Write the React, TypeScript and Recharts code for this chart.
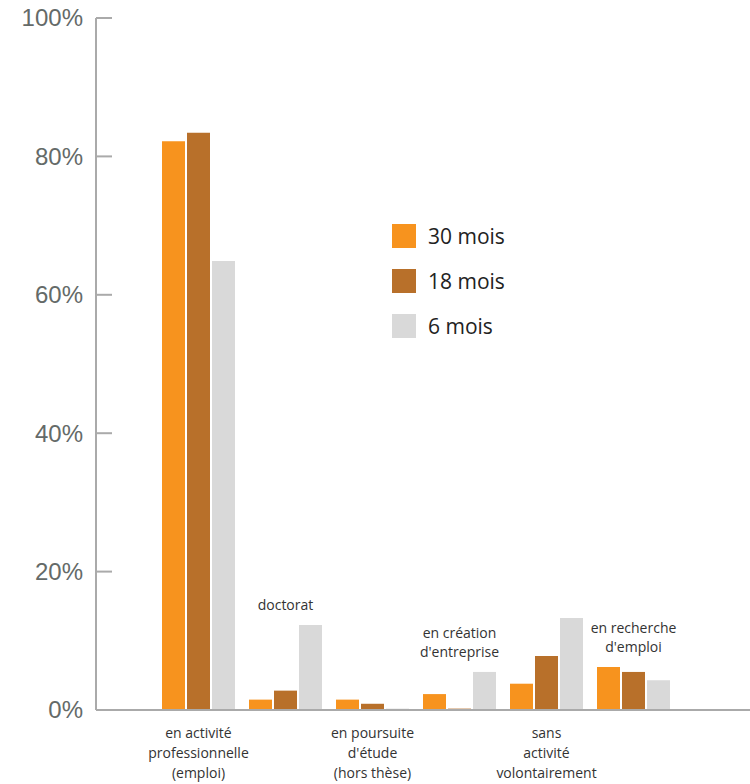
import React from "react";
import { ComposedChart, Bar, Line, XAxis, YAxis, LabelList } from "recharts";

const categories = [
  "en activité professionnelle (emploi)",
  "doctorat",
  "en poursuite d'étude (hors thèse)",
  "en création d'entreprise",
  "sans activité volontairement",
  "en recherche d'emploi",
];
const labelLines = [
  ["en activité", "professionnelle", "(emploi)"],
  ["doctorat"],
  ["en poursuite", "d'étude", "(hors thèse)"],
  ["en création", "d'entreprise"],
  ["sans", "activité", "volontairement"],
  ["en recherche", "d'emploi"],
];
const labelAbove = [false, true, false, true, false, true];

const mois30 = [82.2, 1.5, 1.5, 2.3, 3.8, 6.2];
const mois18 = [83.4, 2.8, 0.9, 0.2, 7.8, 5.5];
const mois6 = [64.9, 12.3, 0.2, 5.5, 13.3, 4.3];

const yTicks = [0, 20, 40, 60, 80, 100];

const series = [
  { key: "m30", name: "30 mois", color: "#f7931e" },
  { key: "m18", name: "18 mois", color: "#b8702a" },
  { key: "m6", name: "6 mois", color: "#d9d9d9" },
];

const data = categories.map((c, i) => ({
  name: c,
  m30: mois30[i],
  m18: mois18[i],
  m6: mois6[i],
  // labels drawn above a group sit over its tallest bar
  top: labelAbove[i] ? Math.max(mois30[i], mois18[i], mois6[i]) : null,
}));

const LABEL_FONT = "'Open Sans', sans-serif";

function YTick(props: any) {
  const { x, y, payload } = props;
  return (
    <g>
      <line x1={x} x2={x + 16} y1={y} y2={y} stroke="#aaaaaa" strokeWidth={2} />
      <text
        x={x - 13}
        y={y}
        dy="0.35em"
        textAnchor="end"
        fill="#646a68"
        fontSize={24}
        fontFamily="'Liberation Sans', Arial, sans-serif"
      >
        {`${payload.value}%`}
      </text>
    </g>
  );
}

function XTick(props: any) {
  const { x, y, index } = props;
  if (labelAbove[index]) return null;
  return (
    <text x={x} y={y} textAnchor="middle" fill="#333333" fontSize={14} fontFamily={LABEL_FONT}>
      {labelLines[index].map((l, k) => (
        <tspan key={k} x={x} y={y + 23 + k * 20} dy="0.35em">
          {l}
        </tspan>
      ))}
    </text>
  );
}

function TopLabel(props: any) {
  const { x, y, index, value } = props;
  if (value == null || !labelAbove[index]) return null;
  const lines = labelLines[index];
  const n = lines.length;
  return (
    <text x={x} y={y} textAnchor="middle" fill="#333333" fontSize={14} fontFamily={LABEL_FONT}>
      {lines.map((l, k) => (
        <tspan key={k} x={x} y={y - 20 - (n - 1 - k) * 19} dy="0.35em">
          {l}
        </tspan>
      ))}
    </text>
  );
}

function LegendBox() {
  return (
    <div style={{ position: "absolute", left: 392, top: 213, fontFamily: LABEL_FONT }}>
      {series.map((s) => (
        <div key={s.key} style={{ display: "flex", alignItems: "center", height: 45 }}>
          <div style={{ width: 24, height: 24, background: s.color, marginRight: 12 }} />
          <span style={{ fontSize: 21, color: "#222222" }}>{s.name}</span>
        </div>
      ))}
    </div>
  );
}

export default function App() {
  return (
    <div style={{ position: "absolute", left: 0, top: 0, width: 750, height: 784, background: "#fff" }}>
      <ComposedChart
        width={750}
        height={784}
        data={data}
        margin={{ top: 18, right: 0, bottom: 0, left: 0 }}
        barSize={23}
        barGap={2}
      >
        <YAxis
          width={96}
          domain={[0, 100]}
          ticks={yTicks}
          interval={0}
          axisLine={{ stroke: "#aaaaaa", strokeWidth: 2 }}
          tickLine={false}
          tickSize={0}
          tickMargin={0}
          tick={<YTick />}
        />
        <XAxis
          dataKey="name"
          height={74}
          interval={0}
          padding={{ left: 59, right: 73 }}
          axisLine={{ stroke: "#aaaaaa", strokeWidth: 2 }}
          tickLine={false}
          tickSize={0}
          tickMargin={0}
          tick={<XTick />}
        />
        {series.map((s) => (
          <Bar key={s.key} dataKey={s.key} name={s.name} fill={s.color} isAnimationActive={false} />
        ))}
        <Line
          dataKey="top"
          stroke="none"
          dot={false}
          activeDot={false}
          legendType="none"
          isAnimationActive={false}
        >
          <LabelList dataKey="top" content={<TopLabel />} />
        </Line>
      </ComposedChart>
      <LegendBox />
    </div>
  );
}
